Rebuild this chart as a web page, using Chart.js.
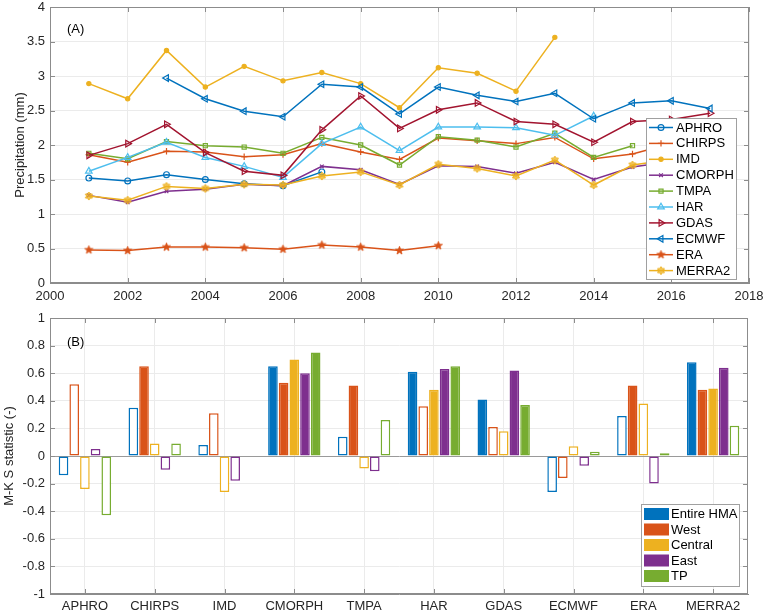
<!DOCTYPE html>
<html><head><meta charset="utf-8">
<script src="https://cdn.jsdelivr.net/npm/chart.js@4/dist/chart.umd.min.js"></script>
<style>
html,body{margin:0;padding:0;background:#fff;}
#wa{position:absolute;left:0;top:0;width:765px;height:307px;}
#wb{position:absolute;left:0;top:307px;width:765px;height:307px;}
</style></head><body>
<div id="wa"><canvas id="ca" width="765" height="307"></canvas></div>
<div id="wb"><canvas id="cb" width="765" height="307"></canvas></div>
<script>
// ---------- Panel A data (annual precipitation, mm) ----------
const years  = [2001,2002,2003,2004,2005,2006,2007,2008,2009,2010,2011,2012,2013,2014,2015,2016,2017];
const APHRO  = [1.52,1.48,1.57,1.50,1.44,1.41,1.61,null,null,null,null,null,null,null,null,null,null];
const CHIRPS = [1.86,1.75,1.91,1.90,1.83,1.86,2.02,1.90,1.79,2.10,2.06,2.02,2.11,1.80,1.87,2.02,1.98];
const IMD    = [2.89,2.67,3.37,2.84,3.14,2.93,3.05,2.89,2.54,3.12,3.04,2.78,3.56,null,null,null,null];
const CMORPH = [1.27,1.17,1.33,1.36,1.43,1.41,1.69,1.64,1.43,1.70,1.69,1.59,1.75,1.50,1.68,1.76,1.72];
const TMPA   = [1.88,1.80,2.05,1.99,1.97,1.88,2.11,2.00,1.71,2.12,2.07,1.97,2.17,1.82,1.99,null,null];
const HAR    = [1.62,1.82,2.04,1.82,1.69,1.53,2.02,2.26,1.92,2.26,2.26,2.25,2.14,2.42,null,null,null];
const GDAS   = [1.85,2.02,2.30,1.89,1.62,1.56,2.22,2.71,2.24,2.51,2.61,2.34,2.30,2.04,2.34,2.37,2.46];
const ECMWF  = [null,null,2.97,2.67,2.49,2.41,2.88,2.84,2.45,2.84,2.72,2.63,2.75,2.38,2.61,2.64,2.53];
const ERA    = [0.48,0.47,0.52,0.52,0.51,0.49,0.55,0.52,0.47,0.54,null,null,null,null,null,null,null];
const MERRA2 = [1.26,1.20,1.40,1.37,1.43,1.42,1.55,1.61,1.42,1.72,1.66,1.55,1.78,1.42,1.71,1.79,1.74];
const products = ['APHRO','CHIRPS','IMD','CMORPH','TMPA','HAR','GDAS','ECMWF','ERA','MERRA2'];
const lineSeries = [APHRO,CHIRPS,IMD,CMORPH,TMPA,HAR,GDAS,ECMWF,ERA,MERRA2];

// ---------- Panel B data (M-K S statistic) ----------
const regions = ['Entire HMA','West','Central','East','TP'];
const sEntire  = [-0.14,0.35,0.08,0.65,0.14,0.61,0.41,-0.26,0.29,0.68];
const sWest    = [0.52,0.65,0.31,0.53,0.51,0.36,0.21,-0.16,0.51,0.48];
const sCentral = [-0.24,0.09,-0.26,0.70,-0.09,0.48,0.18,0.07,0.38,0.49];
const sEast    = [0.05,-0.10,-0.18,0.60,-0.11,0.63,0.62,-0.07,-0.20,0.64];
const sTP      = [-0.43,0.09,null,0.75,0.26,0.65,0.37,0.03,0.02,0.22];
// 1 = significant (filled bar), 0 = not significant (hollow bar)
const sigEntire  = [0,0,0,1,0,1,1,0,0,1];
const sigWest    = [0,1,0,1,1,0,0,0,1,1];
const sigCentral = [0,0,0,1,0,1,0,0,0,1];
const sigEast    = [0,0,0,1,0,1,1,0,0,1];
const sigTP      = [0,0,0,1,0,1,1,0,0,0];
const barValues = [sEntire,sWest,sCentral,sEast,sTP];
const barSig = [sigEntire,sigWest,sigCentral,sigEast,sigTP];

// ---------- styles ----------
const FONT = "'Liberation Sans', Arial, Helvetica, sans-serif";
const TXT = '#262626';
const GRID = '#ebebeb';
const AXC = '#8c8c8c';
const barColors = ['#0072BD','#D95319','#EDB120','#7E2F8E','#77AC30'];

function starCanvas(color, R, r){
  const c=document.createElement('canvas'); const s=Math.ceil(R*2+2); c.width=s; c.height=s;
  const g=c.getContext('2d'); g.beginPath();
  for(let i=0;i<10;i++){const rad=i%2?r:R; const a=-Math.PI/2+i*Math.PI/5; const px=s/2+rad*Math.cos(a), py=s/2+rad*Math.sin(a); i?g.lineTo(px,py):g.moveTo(px,py);}
  g.closePath(); g.fillStyle=color; g.fill(); g.strokeStyle=color; g.lineWidth=0.8; g.stroke(); return c;
}
function hexCanvas(color, R){
  const c=document.createElement('canvas'); const s=Math.ceil(R*2+2); c.width=s; c.height=s;
  const g=c.getContext('2d'); g.beginPath();
  for(let i=0;i<12;i++){const rad=i%2?R*0.6:R; const a=-Math.PI/2+i*Math.PI/6; const px=s/2+rad*Math.cos(a), py=s/2+rad*Math.sin(a); i?g.lineTo(px,py):g.moveTo(px,py);}
  g.closePath(); g.fillStyle=color; g.globalAlpha=0.75; g.fill(); g.globalAlpha=1; g.strokeStyle=color; g.lineWidth=1; g.stroke(); return c;
}
const lineStyles = [
  {color:'#0072BD', ps:'circle',   r:2.9, fill:false},
  {color:'#D95319', ps:'cross',    r:3.2},
  {color:'#EDB120', ps:'circle',   r:2.1, fill:true},
  {color:'#7E2F8E', ps:'crossRot', r:2.6},
  {color:'#77AC30', ps:'rect',     r:2.9},
  {color:'#4DBEEE', ps:'triangle', r:3.8},
  {color:'#A2142F', ps:'triangle', r:3.8, rot:90},
  {color:'#0072BD', ps:'triangle', r:3.8, rot:-90},
  {color:'#D95319', ps:starCanvas('#D95319',4.3,1.8), r:4},
  {color:'#EDB120', ps:hexCanvas('#EDB120',4), r:4},
];

const lineDatasets = lineSeries.map((arr,i)=>{
  const st=lineStyles[i];
  return {
    label: products[i],
    data: years.map((y,k)=>({x:y,y:arr[k]})).filter(p=>p.y!==null),
    borderColor: st.color, backgroundColor: st.fill? st.color : 'rgba(0,0,0,0)',
    pointBorderColor: st.color, pointBackgroundColor: st.fill? st.color : 'rgba(0,0,0,0)',
    borderWidth: 1.5, pointBorderWidth: 1.2,
    pointStyle: st.ps, pointRadius: st.r, pointRotation: st.rot||0,
    tension: 0, fill: false, order: 20-i
  };
});

function boxAndTicks(chart){
  const {ctx, chartArea:a} = chart;
  ctx.save();
  ctx.strokeStyle=AXC; ctx.lineWidth=1;
  ctx.strokeRect(Math.round(a.left)+0.5, Math.round(a.top)+0.5, Math.round(a.right-a.left)-1, Math.round(a.bottom-a.top)-1);
  const xs=chart.scales.x, ys=chart.scales.y, L=5;
  ctx.beginPath();
  xs.ticks.forEach((t,i)=>{const px=Math.round(xs.getPixelForTick(i))+0.5;
    ctx.moveTo(px,a.bottom); ctx.lineTo(px,a.bottom-L); ctx.moveTo(px,a.top); ctx.lineTo(px,a.top+L);});
  ys.ticks.forEach((t,i)=>{const py=Math.round(ys.getPixelForTick(i))+0.5;
    ctx.moveTo(a.left,py); ctx.lineTo(a.left+L,py); ctx.moveTo(a.right,py); ctx.lineTo(a.right-L,py);});
  ctx.stroke();
  ctx.restore();
}

const fmt = v => String(Math.round(v*10)/10);

const pluginA = {
  id:'decorA',
  afterDraw(chart){
    const {ctx, chartArea:a} = chart;
    boxAndTicks(chart);
    ctx.save();
    ctx.font = '13px '+FONT; ctx.fillStyle='#000'; ctx.textBaseline='middle'; ctx.textAlign='left';
    ctx.fillText('(A)', a.left+17, a.top+22);
    // legend
    const lw=90, lh=161, lx=a.right-13-lw, ly=a.bottom-4-lh;
    ctx.fillStyle='#fff'; ctx.fillRect(lx,ly,lw,lh);
    ctx.strokeStyle='#a0a0a0'; ctx.lineWidth=1; ctx.strokeRect(Math.round(lx)+0.5,Math.round(ly)+0.5,lw,lh);
    chart.data.datasets.forEach((ds,i)=>{
      const y = ly+9.5+i*15.9;
      ctx.strokeStyle=ds.borderColor; ctx.lineWidth=1.5;
      ctx.beginPath(); ctx.moveTo(lx+3,y); ctx.lineTo(lx+27,y); ctx.stroke();
      ctx.fillStyle=ds.pointBackgroundColor; ctx.strokeStyle=ds.pointBorderColor; ctx.lineWidth=1.2;
      Chart.helpers.drawPoint(ctx,{pointStyle:ds.pointStyle, rotation:ds.pointRotation, radius:ds.pointRadius, borderWidth:1.2}, lx+15, y);
      ctx.fillStyle='#000'; ctx.font='13px '+FONT; ctx.textAlign='left'; ctx.textBaseline='middle';
      ctx.fillText(ds.label, lx+30, y+0.5);
    });
    ctx.restore();
  }
};

new Chart(document.getElementById('ca'), {
  type:'line',
  data:{datasets: lineDatasets},
  plugins:[pluginA],
  options:{
    responsive:false, animation:false, devicePixelRatio:1,
    layout:{padding:{top:7,right:16,left:0,bottom:0}},
    plugins:{legend:{display:false}, tooltip:{enabled:false}},
    scales:{
      x:{type:'linear', min:2000, max:2018,
         ticks:{stepSize:2, color:TXT, font:{family:FONT,size:13}, padding:6, callback:v=>String(v)},
         grid:{color:GRID, drawTicks:false}, border:{color:AXC},
         afterFit:s=>{s.height=24; s.paddingLeft=0; s.paddingRight=0;}},
      y:{min:0, max:4,
         ticks:{stepSize:0.5, color:TXT, font:{family:FONT,size:13}, padding:5, callback:fmt},
         grid:{color:GRID, drawTicks:false}, border:{color:AXC},
         title:{display:true, text:'Precipitation (mm)', color:TXT, font:{family:FONT,size:13}, padding:{top:13,bottom:0}},
         afterFit:s=>{s.width=50; s.paddingTop=0; s.paddingBottom=0;}}
    }
  }
});

const pluginB = {
  id:'decorB',
  afterDraw(chart){
    const {ctx, chartArea:a} = chart;
    boxAndTicks(chart);
    ctx.save();
    ctx.font='13px '+FONT; ctx.fillStyle='#000'; ctx.textBaseline='middle'; ctx.textAlign='left';
    ctx.fillText('(B)', a.left+17, a.top+24);
    const lw=98, lh=82, lx=a.right-9-lw, ly=a.bottom-8-lh;
    ctx.fillStyle='#fff'; ctx.fillRect(lx,ly,lw,lh);
    ctx.strokeStyle='#a0a0a0'; ctx.lineWidth=1; ctx.strokeRect(Math.round(lx)+0.5,Math.round(ly)+0.5,lw,lh);
    chart.data.datasets.forEach((ds,i)=>{
      const y = ly+10+i*15.5;
      ctx.fillStyle=barColors[i]; ctx.fillRect(lx+3,y-6,25,12);
      ctx.fillStyle='#000'; ctx.font='13px '+FONT; ctx.textAlign='left'; ctx.textBaseline='middle';
      ctx.fillText(ds.label, lx+30, y+0.5);
    });
    ctx.restore();
  }
};

new Chart(document.getElementById('cb'), {
  type:'bar',
  data:{
    labels: products,
    datasets: barValues.map((vals,i)=>({
      label: regions[i], data: vals,
      backgroundColor: c=> barSig[i][c.dataIndex] ? barColors[i] : '#ffffff',
      borderColor: barColors[i], borderWidth: 1.5, borderSkipped:false,
      categoryPercentage:0.765, barPercentage:0.9
    }))
  },
  plugins:[pluginB],
  options:{
    responsive:false, animation:false, devicePixelRatio:1,
    layout:{padding:{top:11,right:17,left:0,bottom:0}},
    plugins:{legend:{display:false}, tooltip:{enabled:false}},
    scales:{
      x:{ticks:{color:TXT, font:{family:FONT,size:13}, padding:5, autoSkip:false, maxRotation:0},
         grid:{color:GRID, drawTicks:false, offset:false}, border:{color:AXC},
         afterFit:s=>{s.height=20; s.paddingLeft=0; s.paddingRight=0;}},
      y:{min:-1, max:1,
         ticks:{stepSize:0.2, color:TXT, font:{family:FONT,size:13}, padding:5, callback:fmt},
         grid:{color:c=> (c.tick && Math.abs(c.tick.value)<1e-9) ? '#9a9a9a' : GRID, drawTicks:false}, border:{color:AXC},
         title:{display:true, text:'M-K S statistic (-)', color:TXT, font:{family:FONT,size:13}, padding:{top:2,bottom:0}},
         afterFit:s=>{s.width=50; s.paddingTop=0; s.paddingBottom=0;}}
    }
  }
});
</script>
</body></html>
